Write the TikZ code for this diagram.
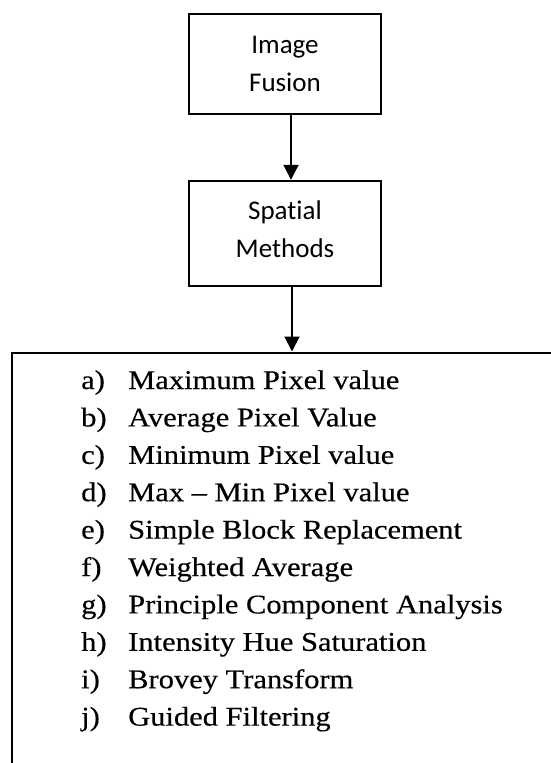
\documentclass[tikz,border=0pt]{standalone}
\usepackage{fontspec}
\setmainfont{Carlito}[Ligatures=NoCommon]
\newfontfamily\listfont[FakeStretch=1.13,FakeBold=0.4]{Liberation Serif}
\usetikzlibrary{arrows.meta}
\begin{document}
\begin{tikzpicture}[x=1pt,y=-1pt,
  stage/.style={draw, line width=2.4pt, minimum width=192pt, minimum height=100pt, align=center, font=\fontsize{27}{38}\selectfont, inner sep=0pt},
  conn/.style={line width=2pt, -{Triangle[width=15pt,length=15pt]}},
  lbl/.style={anchor=base west, inner sep=0pt, font=\listfont\fontsize{27}{32}\selectfont}]
\useasboundingbox (0,0) rectangle (551,763);
\clip (0,0) rectangle (551,763);
\node[stage] (fusion) at (285,63.9) {Image\\Fusion};
\node[stage, minimum height=105pt, text depth=8pt] (spatial) at (285,233.5) {Spatial\\Methods};
\node[draw, line width=2.4pt, anchor=north west, minimum width=700pt, minimum height=600pt] (listbox) at (10.5,351.5) {};
\coordinate (s1) at ([xshift=6pt]fusion.south);
\draw[conn] (s1) -- (s1 |- spatial.north);
\coordinate (s2) at ([xshift=7pt]spatial.south);
\draw[conn] (s2) -- (s2 |- listbox.north);
\foreach \l/\t [count=\i from 0] in {a)/Maximum Pixel value, b)/Average Pixel Value, c)/Minimum Pixel value, d)/Max – Min Pixel value, e)/Simple Block Replacement, f)/Weighted Average, g)/Principle Component Analysis, h)/Intensity Hue Saturation, i)/Brovey Transform, j)/Guided Filtering} {
  \node[lbl] (l\i) at (81, 389+37.4*\i) {\l};
  \node[lbl] (t\i) at (128, 389+37.4*\i) {\t};
}
\end{tikzpicture}
\end{document}
